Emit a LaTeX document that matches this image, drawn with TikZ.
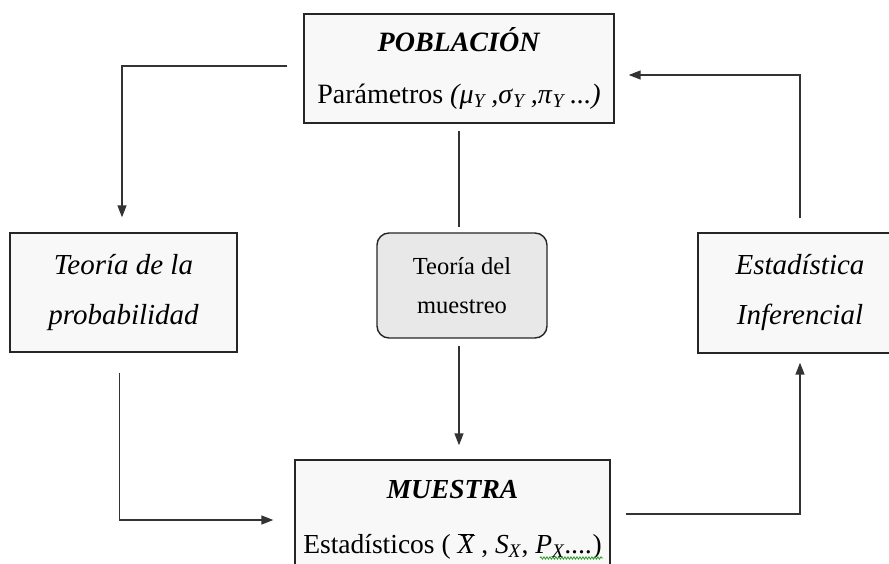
\documentclass[tikz,border=0pt]{standalone}
\usepackage{fontspec}
\setmainfont{Liberation Serif}
\usetikzlibrary{arrows.meta,decorations.pathmorphing}
\definecolor{boxfill}{HTML}{F8F8F8}
\definecolor{roundfill}{HTML}{E8E8E8}
\definecolor{linegray}{HTML}{333333}
\definecolor{spellgreen}{HTML}{2E9E2E}
\begin{document}
\begin{tikzpicture}[x=1pt,y=-1pt,
  plainbox/.style={draw=black!85,line width=1.4pt,fill=boxfill,inner sep=0pt,align=center},
  softbox/.style={draw=black!85,line width=1.4pt,fill=roundfill,rounded corners=12pt,inner sep=0pt,align=center},
  conn/.style={draw=linegray,line width=1.5pt},
  arr/.style={conn,-{Triangle[length=12pt,width=9pt]}},
  poptxt/.style={font=\fontsize{28}{52}\selectfont},
  samptxt/.style={font=\fontsize{27.5}{55}\selectfont},
  midtxt/.style={font=\fontsize{29}{50}\selectfont\itshape},
  smalltxt/.style={font=\fontsize{24.5}{39}\selectfont}]
\useasboundingbox (0,0) rectangle (889,564);
\clip (0,0) rectangle (889,564);

\node[plainbox,poptxt,minimum width=310pt,minimum height=109pt] (pob) at (459,68.5)
  {\textbf{\textit{POBLACIÓN}}\\
   Parámetros \textit{(μ}\textsubscript{\textit{Y}}\,\textit{,σ}\textsubscript{\textit{Y}}\,\textit{,π}\textsubscript{\textit{Y}}\,\textit{...)}};

\node[plainbox,samptxt,minimum width=315pt,minimum height=120pt] (muestra) at (452.5,520)
  {\textbf{\textit{MUESTRA}}\\
   Estadísticos ( $\overline{\mbox{\itshape X}}$ , \textit{S}\textsubscript{\textit{X}}, \textit{P}\textsubscript{\textit{X}}\textit{....})};

\node[plainbox,midtxt,minimum width=227pt,minimum height=119pt] (prob) at (123.5,292.5)
  {Teoría de la\\probabilidad};

\node[plainbox,midtxt,minimum width=204pt,minimum height=120pt] (est) at (800,293)
  {Estadística\\Inferencial};

\node[softbox,smalltxt,minimum width=170pt,minimum height=105pt] (muestreo) at (462,285.5)
  {Teoría del\\muestreo};

\coordinate (sq1) at (540,558);
\coordinate (sq2) at (603,558);
\draw[spellgreen,line width=0.8pt,decorate,decoration={snake,amplitude=1.2pt,segment length=3pt}] (sq1) -- (sq2);

% connectors
\draw[arr,shorten <=16pt,shorten >=15pt] ([yshift=2.5pt]pob.west) -| ([xshift=-1.5pt]prob.north);
\draw[arr,shorten <=14pt,shorten >=14pt] (est.north) |- ([yshift=-6.5pt]pob.east);
\draw[arr,shorten <=20pt,shorten >=21pt] ([xshift=-4pt]prob.south) |- (muestra.west);
\draw[arr,shorten <=15pt,shorten >=9pt] ([yshift=6pt]muestra.east) -| (est.south);
\draw[conn,shorten <=7pt,shorten >=5pt] (pob.south) -- (pob.south |- muestreo.north);
\draw[arr,shorten <=7pt,shorten >=14pt] (pob.south |- muestreo.south) -- (pob.south |- muestra.north);
\end{tikzpicture}
\end{document}
